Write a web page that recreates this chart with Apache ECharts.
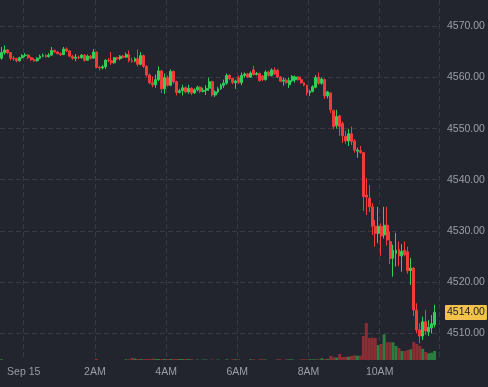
<!DOCTYPE html>
<html><head><meta charset="utf-8">
<script src="https://cdn.jsdelivr.net/npm/echarts@6/dist/echarts.min.js"></script>
<style>html,body{margin:0;padding:0;background:#22252d}#c{width:488px;height:387px}</style>
</head><body><div id="c"></div>
<script>
// 5-minute candles starting Sep 14 23:20
const startMinute = 23 * 60 + 20;
const stepMinutes = 5;
const tickLabels = {'00:00':'Sep 15','02:00':'2AM','04:00':'4AM','06:00':'6AM','08:00':'8AM','10:00':'10AM'};
const priceTicks = [4510, 4520, 4530, 4540, 4550, 4560, 4570];

const opens = [
4563.8,4564.9,4565.4,4564.9,4563.8,4563.7,4563.3,4563.9,4564.3,4564.4,
4563.9,4563.5,4563.3,4563.8,4564.2,4564.3,4564.1,4564.4,4565.3,4565.0,
4564.7,4564.5,4565.6,4565.2,4564.2,4563.8,4564.0,4563.9,4564.4,4563.4,
4564.2,4563.8,4565.0,4562.0,4561.9,4562.1,4563.4,4563.3,4562.9,4563.9,
4563.7,4564.2,4564.0,4564.5,4563.3,4563.2,4563.7,4562.6,4564.3,4562.2,
4560.5,4559.0,4558.6,4559.6,4561.3,4557.8,4560.0,4558.5,4561.2,4559.2,
4557.1,4557.4,4558.0,4557.2,4557.9,4557.0,4557.6,4558.1,4557.3,4557.5,
4557.9,4559.2,4556.6,4557.2,4557.8,4558.5,4558.9,4560.4,4559.8,4559.0,
4560.0,4559.0,4560.4,4560.7,4560.1,4561.5,4560.6,4560.8,4560.3,4559.6,
4561.1,4560.4,4561.5,4561.4,4560.1,4559.3,4559.5,4558.6,4559.4,4559.6,
4560.1,4559.6,4559.0,4558.5,4557.0,4557.3,4558.1,4560.1,4558.9,4559.6,
4556.4,4557.0,4553.6,4550.6,4552.5,4551.0,4548.5,4547.6,4549.0,4547.6,
4545.6,4545.7,4545.3,4537.0,4536.4,4534.7,4530.9,4529.5,4530.9,4529.2,
4531.1,4527.9,4524.6,4525.6,4526.4,4525.1,4526.2,4525.9,4522.2,4522.7,
4514.5,4510.6,4509.4,4512.2,4510.2,4511.0,4511.6];
const closes = [
4564.9,4565.4,4564.9,4563.8,4563.7,4563.3,4563.9,4564.3,4564.4,4563.9,
4563.5,4563.3,4563.8,4564.2,4564.3,4564.1,4564.4,4565.3,4565.0,4564.7,
4564.5,4565.6,4565.2,4564.2,4563.8,4564.0,4563.9,4564.4,4563.4,4564.2,
4563.8,4565.0,4562.0,4561.9,4562.1,4563.4,4563.3,4562.9,4563.9,4563.7,
4564.2,4564.0,4564.5,4563.3,4563.2,4563.7,4562.6,4564.3,4562.2,4560.5,
4559.0,4558.6,4559.6,4561.3,4557.8,4560.0,4558.5,4561.2,4559.2,4557.1,
4557.4,4558.0,4557.2,4557.9,4557.0,4557.6,4558.1,4557.3,4557.5,4557.9,
4559.2,4556.6,4557.2,4557.8,4558.5,4558.9,4560.4,4559.8,4559.0,4559.3,
4559.0,4560.4,4560.7,4560.1,4560.9,4560.6,4560.8,4559.4,4559.6,4561.1,
4560.4,4561.5,4560.7,4560.1,4559.3,4559.5,4559.0,4559.4,4560.2,4560.1,
4559.6,4559.0,4558.5,4557.0,4557.3,4558.2,4560.0,4558.9,4559.7,4556.4,
4557.2,4553.7,4550.4,4552.4,4550.4,4548.6,4547.6,4549.0,4547.5,4545.8,
4545.8,4545.3,4536.7,4536.6,4534.7,4530.9,4529.5,4530.9,4529.0,4531.1,
4528.2,4524.6,4526.2,4526.2,4525.1,4526.0,4525.3,4522.2,4522.7,4514.5,
4510.6,4509.4,4512.2,4510.4,4511.1,4511.8,4514.0];
const lows = [
4563.5,4564.5,4564.6,4563.4,4563.3,4563.0,4563.1,4563.7,4564.0,4563.6,
4563.3,4563.1,4563.1,4563.6,4564.0,4563.9,4563.9,4564.2,4564.8,4564.5,
4564.2,4564.4,4565.0,4564.0,4563.5,4563.2,4563.6,4563.7,4563.1,4563.3,
4563.5,4563.7,4561.8,4561.4,4561.6,4561.7,4563.0,4562.5,4562.7,4563.4,
4563.4,4563.8,4563.9,4563.0,4562.9,4563.0,4562.2,4562.4,4561.9,4560.2,
4558.7,4558.1,4558.0,4559.3,4557.0,4556.8,4558.2,4558.3,4558.8,4556.5,
4556.9,4556.5,4556.9,4556.8,4556.6,4556.8,4557.3,4557.0,4557.1,4556.6,
4557.4,4556.3,4556.2,4556.9,4557.6,4558.0,4558.6,4559.5,4558.7,4557.8,
4558.8,4558.5,4560.0,4559.9,4560.0,4560.4,4560.4,4559.2,4559.3,4559.4,
4560.2,4560.2,4560.5,4559.9,4559.1,4558.4,4558.8,4558.0,4559.1,4559.0,
4559.4,4558.8,4558.3,4556.5,4556.4,4557.1,4557.9,4558.6,4558.6,4555.8,
4555.9,4553.0,4549.9,4550.0,4548.6,4547.2,4547.1,4546.6,4546.8,4545.3,
4544.3,4545.1,4533.9,4533.1,4533.7,4529.2,4526.9,4527.6,4525.1,4528.5,
4527.1,4523.5,4521.0,4523.0,4523.1,4522.0,4525.0,4521.6,4519.4,4513.3,
4510.0,4508.0,4508.6,4509.6,4509.4,4509.9,4511.1];
const highs = [
4566.0,4566.3,4565.6,4565.0,4564.2,4563.9,4564.1,4564.6,4564.8,4564.6,
4564.1,4563.8,4564.0,4564.5,4564.7,4564.6,4564.8,4566.0,4565.5,4565.2,
4564.9,4566.0,4565.9,4565.4,4564.4,4564.6,4564.3,4564.6,4564.6,4564.5,
4564.4,4565.6,4565.1,4562.3,4562.5,4563.6,4563.8,4565.0,4564.0,4564.1,
4564.4,4564.4,4564.9,4565.3,4563.9,4564.0,4565.5,4565.0,4564.5,4562.4,
4560.8,4560.2,4560.6,4562.2,4561.5,4560.8,4560.4,4561.6,4561.4,4559.4,
4557.8,4558.6,4558.3,4558.6,4558.1,4557.9,4558.4,4558.3,4558.0,4558.5,
4560.0,4559.4,4557.5,4558.2,4558.8,4559.6,4560.8,4560.7,4559.9,4559.6,
4560.4,4561.0,4561.0,4560.9,4561.2,4562.3,4561.1,4561.0,4560.5,4561.4,
4561.3,4561.8,4562.0,4561.7,4560.3,4560.0,4559.9,4560.0,4560.5,4560.4,
4560.3,4560.2,4559.1,4558.6,4557.6,4558.5,4560.5,4561.0,4560.0,4559.8,
4557.4,4557.1,4553.7,4553.7,4552.7,4551.4,4549.6,4549.9,4550.4,4548.0,
4546.3,4546.6,4545.4,4540.3,4539.0,4535.4,4532.1,4534.7,4531.5,4534.7,
4534.7,4529.9,4527.3,4529.6,4527.9,4527.4,4527.9,4526.9,4524.7,4522.9,
4515.8,4511.9,4513.2,4514.5,4512.5,4513.5,4515.5];
const volumes = [
70,0,0,0,0,0,0,0,0,0,
0,0,0,0,0,0,0,0,0,0,
0,0,0,0,0,0,0,0,0,0,
0,0,100,0,0,0,0,0,0,0,
0,0,70,70,200,150,100,100,100,100,
100,150,100,100,100,100,100,100,100,100,
100,100,100,100,100,0,50,0,50,50,
0,50,0,50,0,0,70,0,70,70,
70,0,0,0,70,70,0,70,70,50,
0,0,0,70,70,0,70,70,70,0,
0,70,70,70,70,70,70,70,170,100,
100,400,270,250,600,300,300,330,400,470,
430,430,2400,3700,2200,2230,2200,1500,1600,2570,
1770,1770,1770,1400,1200,900,900,1000,1070,1800,
1600,1400,1130,800,670,730,900];

const times = opens.map((_, i) => {
  const m = (startMinute + i * stepMinutes) % 1440;
  return String(Math.floor(m / 60)).padStart(2, '0') + ':' + String(m % 60).padStart(2, '0');
});
times.push('11:30');

const UP = '#2fcf58', DOWN = '#f53a3a', VUP = '#2d7d40', VDOWN = '#8b2e34';
const GRID = '#363a45', TXT = '#9b9fa8';
const FONT = 'Liberation Sans, Arial, sans-serif';
const Y_MIN = 4504.71, Y_MAX = 4575.19;
const showTick = (i, v) => Object.prototype.hasOwnProperty.call(tickLabels, v);

const candles = opens.map((o, i) => [o, closes[i], lows[i], highs[i]]);
const volData = volumes.map((v, i) => ({
  value: v,
  itemStyle: { color: closes[i] >= opens[i] ? VUP : VDOWN }
}));
const lastClose = closes[closes.length - 1];

const chart = echarts.init(document.getElementById('c'), null, { renderer: 'canvas' });
chart.setOption({
  animation: false,
  backgroundColor: '#22252d',
  textStyle: { fontFamily: FONT },
  grid: [
    { left: 0, right: 49, top: 0, bottom: 27, containLabel: false, outerBoundsMode: 'none' },
    { left: 0, right: 49, top: 300, bottom: 27, containLabel: false, outerBoundsMode: 'none' }
  ],
  xAxis: [
    {
      type: 'category', gridIndex: 0, data: times, boundaryGap: true,
      axisLine: { show: false }, axisTick: { show: false },
      axisLabel: {
        interval: showTick, formatter: v => tickLabels[v] || '',
        color: TXT, fontSize: 10.5, fontFamily: FONT, margin: 7, padding: [0, 3, 0, 0]
      },
      splitLine: { show: true, interval: showTick, lineStyle: { color: GRID, type: [5, 3], width: 1 } }
    },
    {
      type: 'category', gridIndex: 1, data: times, boundaryGap: true, show: false,
      axisLine: { show: false }, axisTick: { show: false }, axisLabel: { show: false },
      splitLine: { show: false }
    }
  ],
  yAxis: [
    {
      type: 'value', gridIndex: 0, position: 'right', scale: true,
      min: Y_MIN, max: Y_MAX, minInterval: 10, maxInterval: 10,
      axisLine: { show: false }, axisTick: { show: false },
      axisLabel: {
        formatter: v => priceTicks.indexOf(Math.round(v)) >= 0 && Math.abs(v - Math.round(v)) < 1e-6 ? v.toFixed(2) : '',
        color: TXT, fontSize: 10.5, fontFamily: FONT, margin: 8,
        showMinLabel: false, showMaxLabel: false
      },
      splitLine: { show: true, showMinLine: false, showMaxLine: false, lineStyle: { color: GRID, type: [5, 3], width: 1 } }
    },
    {
      type: 'value', gridIndex: 1, min: 0, max: 6000, show: false,
      axisLine: { show: false }, axisTick: { show: false }, axisLabel: { show: false },
      splitLine: { show: false }
    },
    {
      // last-price tag axis
      type: 'value', gridIndex: 0, position: 'right', min: Y_MIN, max: Y_MAX,
      axisLine: { show: false }, axisTick: { show: false }, splitLine: { show: false },
      axisLabel: {
        customValues: [lastClose],
        showMinLabel: true, showMaxLabel: true,
        formatter: v => Number(v).toFixed(2),
        color: '#1b1d22', backgroundColor: '#f3c24b', padding: [2, 2, 2, 2],
        fontSize: 10.5, fontFamily: FONT, margin: 6, borderRadius: 1
      }
    }
  ],
  series: [
    {
      type: 'bar', xAxisIndex: 1, yAxisIndex: 1, data: volData,
      barCategoryGap: '0%', barWidth: '100%', silent: true, z: 1
    },
    {
      type: 'candlestick', xAxisIndex: 0, yAxisIndex: 0, data: candles,
      barWidth: 2.4, z: 3,
      itemStyle: { color: UP, color0: DOWN, borderColor: UP, borderColor0: DOWN, borderWidth: 1 }
    }
  ]
});
</script>
</body></html>
